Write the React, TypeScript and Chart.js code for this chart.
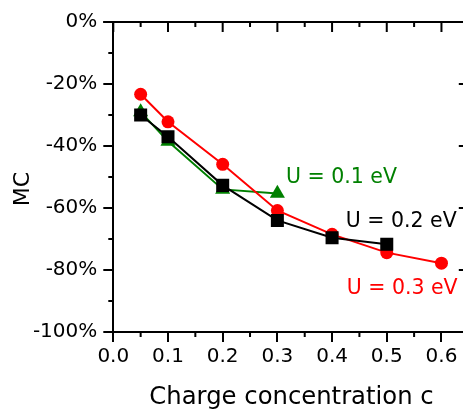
import React, { useEffect, useRef } from "react";
import { Chart, registerables } from "chart.js";

Chart.register(...registerables);

// Charge concentration c (x) and MC in percent (y) for each Hubbard U
const cU01 = [0.05, 0.1, 0.2, 0.3];
const mcU01 = [-29, -38.5, -54, -55.3];

const cU02 = [0.05, 0.1, 0.2, 0.3, 0.4, 0.5];
const mcU02 = [-30, -37, -52.7, -64, -69.6, -71.7];

const cU03 = [0.05, 0.1, 0.2, 0.3, 0.4, 0.5, 0.6];
const mcU03 = [-23.3, -32.2, -45.9, -60.8, -68.5, -74.4, -77.8];

const xTicks = [0, 0.1, 0.2, 0.3, 0.4, 0.5, 0.6];
const xMinorTicks = [0.05, 0.15, 0.25, 0.35, 0.45, 0.55];
const yTicks = [0, -20, -40, -60, -80, -100];
const yMinorTicks = [-10, -30, -50, -70, -90];

const seriesLabels = ["U = 0.2 eV", "U = 0.3 eV", "U = 0.1 eV"];

// in-plot labels: text, colour, anchor (data coords, left / baseline)
const curveLabels = [
  { text: "U = 0.1 eV", color: "#008000", x: 0.3157, y: -52.0 },
  { text: "U = 0.2 eV", color: "#000000", x: 0.4249, y: -66.0 },
  { text: "U = 0.3 eV", color: "#ff0000", x: 0.4267, y: -87.8 },
];

const FONT = "'DejaVu Sans', sans-serif";

const toPoints = (xs: number[], ys: number[]) => xs.map((x, i) => ({ x, y: ys[i] }));

const framePlugin = {
  id: "frameAndLabels",
  afterDraw(chart: any) {
    const { ctx, chartArea: a } = chart;
    const xs = chart.scales.x;
    const ys = chart.scales.y;
    ctx.save();
    ctx.strokeStyle = "#000";
    ctx.lineWidth = 2;
    ctx.beginPath();
    // top and right frame
    ctx.moveTo(a.left - 10, a.top);
    ctx.lineTo(a.right, a.top);
    ctx.lineTo(a.right, a.bottom);
    // x ticks: minor outward at bottom, inward at top
    for (const v of xMinorTicks) {
      const px = xs.getPixelForValue(v);
      ctx.moveTo(px, a.bottom);
      ctx.lineTo(px, a.bottom + 5);
      ctx.moveTo(px, a.top);
      ctx.lineTo(px, a.top + 5);
    }
    for (const v of xTicks) {
      const px = xs.getPixelForValue(v);
      ctx.moveTo(px, a.top);
      ctx.lineTo(px, a.top + 10);
    }
    // y ticks: minor outward on the left, inward on the right
    for (const v of yMinorTicks) {
      const py = ys.getPixelForValue(v);
      ctx.moveTo(a.left, py);
      ctx.lineTo(a.left - 5, py);
      ctx.moveTo(a.right, py);
      ctx.lineTo(a.right - 5, py);
    }
    for (const v of yTicks) {
      const py = ys.getPixelForValue(v);
      ctx.moveTo(a.right, py);
      ctx.lineTo(a.right - 10, py);
    }
    ctx.stroke();

    // axis titles
    ctx.fillStyle = "#000";
    ctx.font = `24.3px ${FONT}`;
    ctx.textAlign = "center";
    ctx.textBaseline = "alphabetic";
    ctx.fillText("Charge concentration c", 291.5, 404);

    ctx.save();
    ctx.translate(29, 189);
    ctx.rotate(-Math.PI / 2);
    ctx.font = `22px ${FONT}`;
    ctx.fillText("MC", 0, 0);
    ctx.restore();

    // curve labels
    ctx.font = `20.5px ${FONT}`;
    ctx.textAlign = "left";
    for (const l of curveLabels) {
      ctx.fillStyle = l.color;
      ctx.fillText(l.text, xs.getPixelForValue(l.x), ys.getPixelForValue(l.y));
    }
    ctx.restore();
  },
};

export default function App() {
  const ref = useRef<HTMLCanvasElement>(null);

  useEffect(() => {
    if (!ref.current) return;
    const chart = new Chart(ref.current, {
      type: "line",
      data: {
        datasets: [
          {
            label: seriesLabels[0],
            data: toPoints(cU02, mcU02),
            borderColor: "#000000",
            backgroundColor: "#000000",
            borderWidth: 2,
            pointStyle: "rect",
            pointRadius: 9.2,
            pointBorderWidth: 0,
          },
          {
            label: seriesLabels[1],
            data: toPoints(cU03, mcU03),
            borderColor: "#ff0000",
            backgroundColor: "#ff0000",
            borderWidth: 2,
            pointStyle: "circle",
            pointRadius: 6.5,
            pointBorderWidth: 0,
          },
          {
            label: seriesLabels[2],
            data: toPoints(cU01, mcU01),
            borderColor: "#008000",
            backgroundColor: "#008000",
            borderWidth: 2,
            pointStyle: "triangle",
            pointRadius: 8.7,
            pointBorderWidth: 0,
          },
        ],
      },
      options: {
        animation: false,
        responsive: false,
        devicePixelRatio: 1,
        layout: { padding: { top: 22, right: 1, left: 0, bottom: 0 } },
        plugins: { legend: { display: false }, tooltip: { enabled: false } },
        elements: { line: { tension: 0 } },
        scales: {
          x: {
            type: "linear",
            min: 0,
            max: 0.65,
            afterFit: (s: any) => {
              s.height = 77;
            },
            afterBuildTicks: (s: any) => {
              s.ticks = xTicks.map((value) => ({ value }));
            },
            grid: {
              display: true,
              drawOnChartArea: false,
              drawTicks: true,
              tickLength: 10,
              color: "#000",
              lineWidth: 2,
            },
            border: { display: true, color: "#000", width: 2 },
            ticks: {
              color: "#000",
              font: { family: FONT, size: 20 },
              padding: 3,
              maxRotation: 0,
              callback: (v: any) => Number(v).toFixed(1),
            },
          },
          y: {
            type: "linear",
            min: -100,
            max: 0,
            afterFit: (s: any) => {
              s.width = 113.3;
            },
            afterBuildTicks: (s: any) => {
              s.ticks = yTicks.map((value) => ({ value }));
            },
            grid: {
              display: true,
              drawOnChartArea: false,
              drawTicks: true,
              tickLength: 10,
              color: "#000",
              lineWidth: 2,
            },
            border: { display: true, color: "#000", width: 2 },
            ticks: {
              color: "#000",
              font: { family: FONT, size: 20 },
              padding: 6,
              callback: (v: any) => `${v}%`,
            },
          },
        },
      },
      plugins: [framePlugin],
    });
    return () => chart.destroy();
  }, []);

  return (
    <div
      style={{
        position: "fixed",
        left: 0,
        top: 0,
        width: 463,
        height: 409,
        overflow: "hidden",
        background: "#fff",
      }}
    >
      {/* the canvas runs a few pixels past the clip so the right frame edge is cut off */}
      <canvas ref={ref} width={478} height={409} style={{ display: "block", width: 478, height: 409 }} />
    </div>
  );
}
